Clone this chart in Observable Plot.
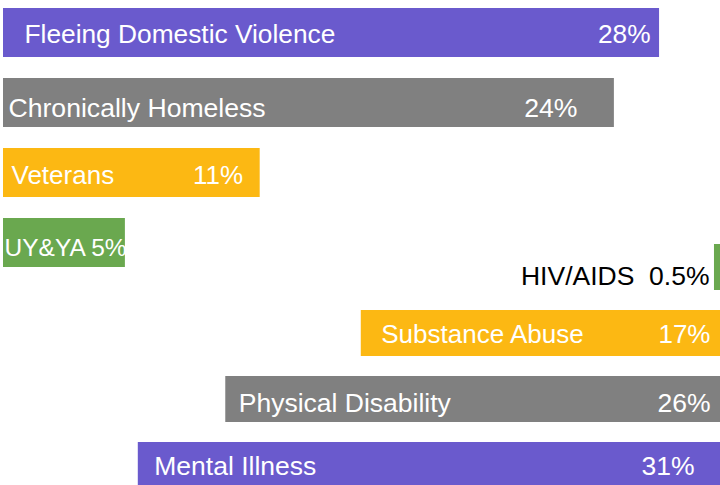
<!DOCTYPE html>
<html>
<head>
<meta charset="utf-8">
<script src="https://cdn.jsdelivr.net/npm/d3@7"></script>
<script src="https://cdn.jsdelivr.net/npm/@observablehq/plot@0.6"></script>
<style>
  html, body { margin: 0; padding: 0; background: #fff; }
  #chart { position: relative; width: 720px; height: 485px; overflow: hidden; }
  #chart svg { position: absolute; left: 0; top: 0; background: transparent; }
  #chart svg text { white-space: pre; }
</style>
</head>
<body>
<div id="chart"></div>
<script>
// ---- data ----
const categories = ["Fleeing Domestic Violence", "Chronically Homeless", "Veterans", "UY&YA",
                    "HIV/AIDS", "Substance Abuse", "Physical Disability", "Mental Illness"];
const values = [28, 24, 11, 5, 0.5, 17, 26, 31];               // percent labels
const barLengths = [91.5, 85.2, 35.8, 17.0, 0.84, 50.1, 69.0, 81.2]; // bar length (% of track)
const groups = ["Population", "Population", "Population", "Population",
                "Condition", "Condition", "Condition", "Condition"];

// ---- styles ----
const colors = {
  "Fleeing Domestic Violence": "#6a5acd", "Chronically Homeless": "#808080",
  "Veterans": "#fcb813", "UY&YA": "#6aa84f", "HIV/AIDS": "#6aa84f",
  "Substance Abuse": "#fcb813", "Physical Disability": "#808080", "Mental Illness": "#6a5acd"
};
const labelStyle = {
  "Fleeing Domestic Violence": {dx: 21, dy: 1.5, inset: 9, size: 26.3},
  "Chronically Homeless": {dx: 5, dy: 5, inset: 37, size: 26.6},
  "Veterans": {dx: 8, dy: 2.5, inset: 17, size: 26},
  "UY&YA": {dx: 1, dy: 5, size: 24.5, combined: true},
  "HIV/AIDS": {dx: -5, dy: 9, size: 26.5, outside: true},
  "Substance Abuse": {dx: 20, dy: 1, inset: 10, size: 26},
  "Physical Disability": {dx: 13, dy: 4.5, inset: 10, size: 26.5},
  "Mental Illness": {dx: 16, dy: 1.5, inset: 26, size: 26.5}
};

const rows = categories.map((c, i) => {
  const left = groups[i] === "Population";
  return {
    category: c, value: values[i], group: groups[i],
    x1: left ? 0 : 100 - barLengths[i],
    x2: left ? barLengths[i] : 100
  };
});
const fmt = v => `${v}%`;

function panel(group, yRange) {
  const data = rows.filter(d => d.group === group);
  const marks = [
    Plot.barX(data, {x1: "x1", x2: "x2", y: "category", fill: d => colors[d.category]})
  ];
  for (const d of data) {
    const s = labelStyle[d.category];
    if (s.outside) {
      marks.push(Plot.text([d], {x: "x1", y: "category", text: r => `${r.category}\u00a0\u00a0${fmt(r.value)}`,
        textAnchor: "end", dx: s.dx, dy: s.dy, fill: "#000", fontSize: s.size}));
    } else if (s.combined) {
      marks.push(Plot.text([d], {x: "x1", y: "category", text: r => `${r.category} ${fmt(r.value)}`,
        textAnchor: "start", dx: s.dx, dy: s.dy, fill: "#fff", fontSize: s.size}));
    } else {
      marks.push(Plot.text([d], {x: "x1", y: "category", text: "category",
        textAnchor: "start", dx: s.dx, dy: s.dy, fill: "#fff", fontSize: s.size}));
      marks.push(Plot.text([d], {x: "x2", y: "category", text: r => fmt(r.value),
        textAnchor: "end", dx: -s.inset, dy: s.dy, fill: "#fff", fontSize: s.size}));
    }
  }
  return Plot.plot({
    width: 720, height: 485, margin: 0,
    style: {fontFamily: "'Liberation Sans', Arial, sans-serif", background: "transparent", overflow: "visible"},
    x: {domain: [0, 100], range: [3, 720], axis: null},
    y: {domain: data.map(d => d.category), range: yRange, paddingInner: 0.3, paddingOuter: 0, axis: null},
    marks
  });
}

const el = document.getElementById("chart");
el.append(panel("Population", [7, 267.1]));
el.append(panel("Condition", [242, 489.9]));
</script>
</body>
</html>
